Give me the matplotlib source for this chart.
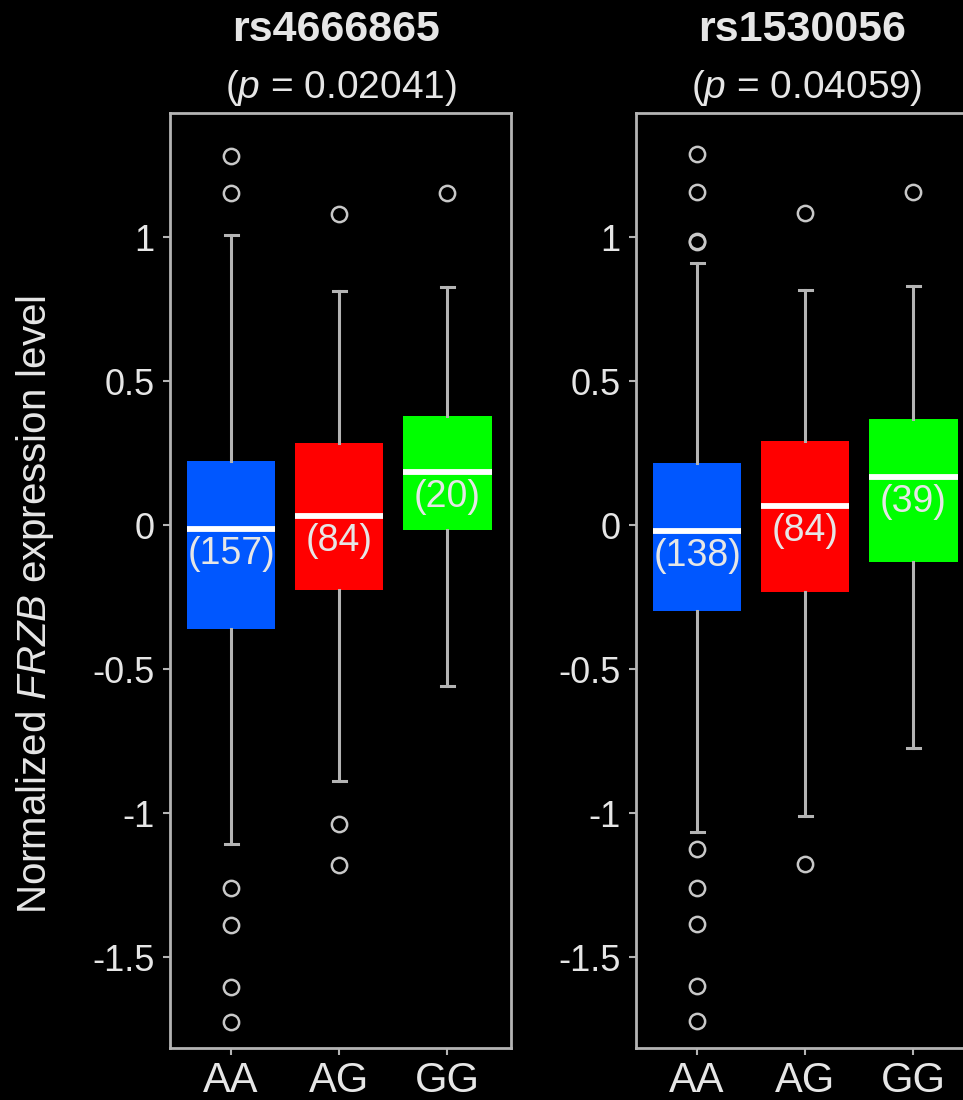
import numpy as np
import matplotlib
matplotlib.use('Agg')
import matplotlib.pyplot as plt

plt.rcParams['font.family'] = ['Liberation Sans', 'DejaVu Sans']
plt.rcParams['mathtext.fontset'] = 'custom'
plt.rcParams['mathtext.rm'] = 'Liberation Sans'
plt.rcParams['mathtext.it'] = 'Liberation Sans:italic'

genotypes = ['AA', 'AG', 'GG']
box_colors = ['#0057FF', '#FF0000', '#00FF00']

snps = ['rs4666865', 'rs1530056']
pvals = ['0.02041', '0.04059']
counts = [[157, 84, 20], [138, 84, 39]]

# per panel, per genotype: lower whisker, q1, median, q3, upper whisker
whislo = [[-1.108, -0.889, -0.559], [-1.066, -1.010, -0.774]]
q1 = [[-0.361, -0.226, -0.017], [-0.299, -0.233, -0.128]]
med = [[-0.014, 0.031, 0.184], [-0.021, 0.066, 0.167]]
q3 = [[0.222, 0.285, 0.378], [0.215, 0.292, 0.368]]
whishi = [[1.007, 0.812, 0.826], [0.910, 0.816, 0.830]]
fliers = [
    [[1.281, 1.153, -1.260, -1.389, -1.604, -1.726],
     [1.080, -1.038, -1.181],
     [1.153]],
    [[1.288, 1.156, 0.988, 0.982, -1.125, -1.260, -1.385, -1.601, -1.722],
     [1.083, -1.177],
     [1.156]],
]

line_col = '#b4b4b4'
text_col = '#e6e6e6'

fig = plt.figure(figsize=(9.63, 11.0), dpi=100)
fig.patch.set_facecolor('black')

lefts = [170/963, 636/963]
w = 341/963
b = 52/1100
h = 935/1100

for k in range(2):
    ax = fig.add_axes([lefts[k], b, w, h])
    ax.set_facecolor('black')
    stats = []
    for i in range(3):
        stats.append({'whislo': whislo[k][i], 'q1': q1[k][i], 'med': med[k][i],
                      'q3': q3[k][i], 'whishi': whishi[k][i], 'fliers': fliers[k][i]})
    bp = ax.bxp(stats, positions=[1, 2, 3], widths=0.82, patch_artist=True,
                capwidths=0.12,
                boxprops=dict(linewidth=0),
                medianprops=dict(color='white', linewidth=4.2, solid_capstyle='butt'),
                whiskerprops=dict(color=line_col, linewidth=2.2),
                capprops=dict(color=line_col, linewidth=2.2),
                flierprops=dict(marker='o', markersize=11, markerfacecolor='none',
                                markeredgecolor='#c8c8c8', markeredgewidth=1.8))
    for patch, c in zip(bp['boxes'], box_colors):
        patch.set_facecolor(c)
        patch.set_edgecolor(c)
    for i in range(3):
        ax.annotate(f'({counts[k][i]})', (i + 1, med[k][i]), xytext=(0, -5),
                    textcoords='offset points', ha='center', va='top',
                    fontsize=27, color=text_col)
    ax.set_xlim(0.435, 3.59)
    ax.set_ylim(-1.816, 1.431)
    ax.set_xticks([1, 2, 3])
    ax.set_xticklabels(genotypes, fontsize=30)
    ax.set_yticks([1, 0.5, 0, -0.5, -1, -1.5])
    ax.set_yticklabels(['1', '0.5', '0', '-0.5', '-1', '-1.5'], fontsize=26)
    ax.tick_params(colors=line_col, labelcolor=text_col, length=5, width=1.5, pad=6)
    ax.tick_params(axis='x', pad=4)
    for s in ax.spines.values():
        s.set_color(line_col)
        s.set_linewidth(2)
    cx = lefts[k] + w / 2
    fig.text(cx - 4/963, 1 - 30/1100, snps[k], ha='center', va='center',
             fontsize=31, fontweight='bold', color=text_col)
    fig.text(cx, 1 - 88/1100, '($\\mathit{p}$ = ' + pvals[k] + ')', ha='center',
             va='center', fontsize=28, color=text_col)

fig.text(35/963, 1 - 605/1100, 'Normalized $\\mathit{FRZB}$ expression level',
         rotation=90, ha='center', va='center', fontsize=29, color=text_col)

fig.savefig('out.png', dpi=100, facecolor='black')
